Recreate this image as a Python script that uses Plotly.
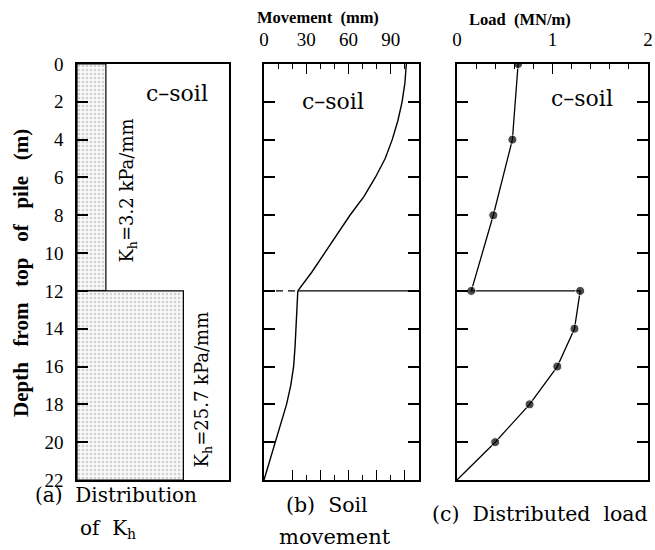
import plotly.graph_objects as go

# ---------------- data ----------------
# (a) Kh distribution (schematic widths of the stippled zones)
kh_layer_top = [0, 12]
kh_layer_bottom = [12, 22]
kh_values = ["3.2", "25.7"]
kh_display_width = [0.19, 0.70]

# (b) soil movement (mm) vs depth (m)
mov_depth_upper = [0, 1, 2, 3, 4, 5, 6, 7, 8, 9, 10, 11, 12]
mov_upper = [101, 100, 98, 95, 91, 86, 79, 71, 61, 52, 43, 34, 24]
mov_depth_lower = [12, 13, 14, 15, 16, 17, 18, 19, 20, 21, 22]
mov_lower = [24, 23.5, 23, 22, 21, 19, 16, 12, 7.5, 3.7, 0]

# (c) distributed load (MN/m) vs depth (m)
load_depth = [0, 4, 8, 12, 12, 14, 16, 18, 20, 22]
load_values = [0.64, 0.58, 0.38, 0.15, 1.29, 1.23, 1.05, 0.76, 0.40, 0.0]

depth_ticks = list(range(0, 23, 2))
mov_range = [0, 110]
load_range = [0, 2]

SERIF = "Liberation Serif, Times New Roman, serif"
TEXT = "DejaVu Serif, serif"
W, H = 655, 550

fig = go.Figure()

# ---- panel a stippled zones
for top, bot, w in zip(kh_layer_top, kh_layer_bottom, kh_display_width):
    fig.add_trace(go.Scatter(
        x=[0, w, w, 0, 0], y=[top, top, bot, bot, top],
        mode="lines", fill="toself", xaxis="x", yaxis="y",
        line=dict(color="black", width=1.2),
        fillcolor="rgba(0,0,0,0)",
        fillpattern=dict(shape=".", size=4, solidity=0.3, fgcolor="#a8a8a8", bgcolor="#f8f8f8"),
        hoverinfo="skip", showlegend=False))

# ---- panel b curves
fig.add_trace(go.Scatter(x=mov_upper, y=mov_depth_upper, mode="lines", xaxis="x2", yaxis="y2",
                         line=dict(color="black", width=1.4), showlegend=False))
fig.add_trace(go.Scatter(x=mov_lower, y=mov_depth_lower, mode="lines", xaxis="x2", yaxis="y2",
                         line=dict(color="black", width=1.4), showlegend=False))
fig.add_trace(go.Scatter(x=[mov_upper[-1], mov_range[1]], y=[mov_depth_upper[-1]] * 2, mode="lines",
                         xaxis="x2", yaxis="y2", line=dict(color="black", width=1.4), showlegend=False))
fig.add_trace(go.Scatter(x=[0, mov_upper[-1]], y=[mov_depth_upper[-1]] * 2, mode="lines",
                         xaxis="x2", yaxis="y2", line=dict(color="black", width=1.4, dash="7px,5px"),
                         showlegend=False))
# invisible trace for the bottom tick axis of panel b
fig.add_trace(go.Scatter(x=[None], y=[None], xaxis="x4", yaxis="y2", showlegend=False))

# ---- panel c
fig.add_trace(go.Scatter(x=load_values, y=load_depth, mode="lines+markers", xaxis="x3", yaxis="y3",
                         line=dict(color="black", width=1.3),
                         marker=dict(color="black", size=[9] * (len(load_values) - 1) + [0]),
                         showlegend=False))

axline = dict(showline=True, linecolor="black", linewidth=1.6, showgrid=False, zeroline=False,
              automargin=False)
ydom = [1 - 480 / H, 1 - 64 / H]
tickfont = dict(family=SERIF, size=19, color="black")

layout_axes = dict(
    xaxis=dict(domain=[77 / W, 229 / W], range=[0, 1], anchor="y", mirror=True,
               showticklabels=False, ticks="", **axline),
    yaxis=dict(domain=ydom, range=[22, 0], anchor="x", mirror=True, ticks="inside", ticklen=11,
               tickwidth=1.6, tickcolor="black", tickvals=depth_ticks,
               ticklabelstandoff=8, tickfont=tickfont, **axline),
    xaxis2=dict(domain=[264 / W, 419 / W], range=mov_range, anchor="y2", side="top", mirror=True,
                ticks="inside", ticklen=10, tickwidth=1.4, tickcolor="black",
                tickvals=[0, 30, 60, 90], ticklabelstandoff=9, ticklabeloverflow="allow",
                minor=dict(tickvals=[10, 20, 40, 50, 70, 80, 100], ticklen=5, tickwidth=1.2,
                           tickcolor="black", ticks="inside"),
                tickfont=tickfont, **axline),
    xaxis4=dict(domain=[264 / W, 419 / W], range=mov_range, anchor="y2", overlaying="x2", side="bottom",
                ticks="inside", ticklen=10, tickwidth=1.4, tickcolor="black",
                tickvals=[20, 40, 60, 80, 100], showticklabels=False,
                minor=dict(tickvals=[30, 50, 70, 90], ticklen=5, tickwidth=1.2,
                           tickcolor="black", ticks="inside"),
                showline=False, showgrid=False, zeroline=False, automargin=False),
    yaxis2=dict(domain=ydom, range=[22, 0], anchor="x2", mirror="ticks", ticks="inside", ticklen=11,
                tickwidth=1.6, tickcolor="black", tickvals=depth_ticks[1:-1], showticklabels=False,
                **axline),
    xaxis3=dict(domain=[457 / W, 648 / W], range=load_range, anchor="y3", side="top", mirror=True,
                ticks="inside", ticklen=10, tickwidth=1.4, tickcolor="black",
                tickvals=[0, 1, 2], ticklabelstandoff=9, ticklabeloverflow="allow",
                minor=dict(tickvals=[0.2, 0.4, 0.6, 0.8, 1.2, 1.4, 1.6, 1.8], ticklen=5, tickwidth=1.2,
                           tickcolor="black", ticks="inside"),
                tickfont=tickfont, **axline),
    yaxis3=dict(domain=ydom, range=[22, 0], anchor="x3", mirror="ticks", ticks="inside", ticklen=11,
                tickwidth=1.6, tickcolor="black", tickvals=depth_ticks[1:-1], showticklabels=False,
                **axline),
)

ann = []
def paper_text(txt, x, y, size, bold=False, angle=0, family=TEXT):
    ann.append(dict(text=("<b>%s</b>" % txt) if bold else txt, x=x / W, y=1 - y / H, xref="paper",
                    yref="paper", showarrow=False, textangle=angle, xanchor="center", yanchor="middle",
                    font=dict(family=family, size=size, color="black")))

SP = "&nbsp;&nbsp;"
paper_text("Movement" + SP + "(mm)", 318, 18, 16.5, bold=True, family=SERIF)
paper_text("Load" + SP + "(MN/m)", 520, 19, 16.5, bold=True, family=SERIF)
SP3 = "&nbsp;&nbsp;&nbsp;"
paper_text(SP3.join(["Depth", "from", "top", "of", "pile", "(m)"]), 21, 273, 21, bold=True, angle=-90,
           family=SERIF)
paper_text("(a)" + SP + "Distribution", 116, 495, 20)
paper_text("of" + SP + "K<sub>h</sub>", 108, 529, 20)
paper_text("(b)" + SP + "Soil", 327, 505, 20.5)
paper_text("movement", 335, 537, 21)
paper_text("(c)" + SP + "Distributed" + SP + "load", 540, 514, 20.5)

def data_text(txt, x, y, xr, yr, size, angle=0):
    ann.append(dict(text=txt, x=x, y=y, xref=xr, yref=yr, showarrow=False, textangle=angle,
                    xanchor="center", yanchor="middle", font=dict(family=TEXT, size=size, color="black")))

data_text("c–soil", 0.66, 1.55, "x", "y", 22)
data_text("c–soil", 49, 2.0, "x2", "y2", 22)
data_text("c–soil", 1.31, 1.85, "x3", "y3", 22)
data_text("K<sub>h</sub>=%s kPa/mm" % kh_values[0], 0.335, 6.7, "x", "y", 18, angle=-90)
data_text("K<sub>h</sub>=%s kPa/mm" % kh_values[1], 0.83, 17.2, "x", "y", 18, angle=-90)

fig.update_layout(width=W, height=H, margin=dict(l=0, r=0, t=0, b=0),
                  paper_bgcolor="white", plot_bgcolor="white", annotations=ann, **layout_axes)

fig.write_html("out.html", config={"displayModeBar": False},
               post_script="document.body.style.margin='0px';document.body.style.overflow='hidden';")
